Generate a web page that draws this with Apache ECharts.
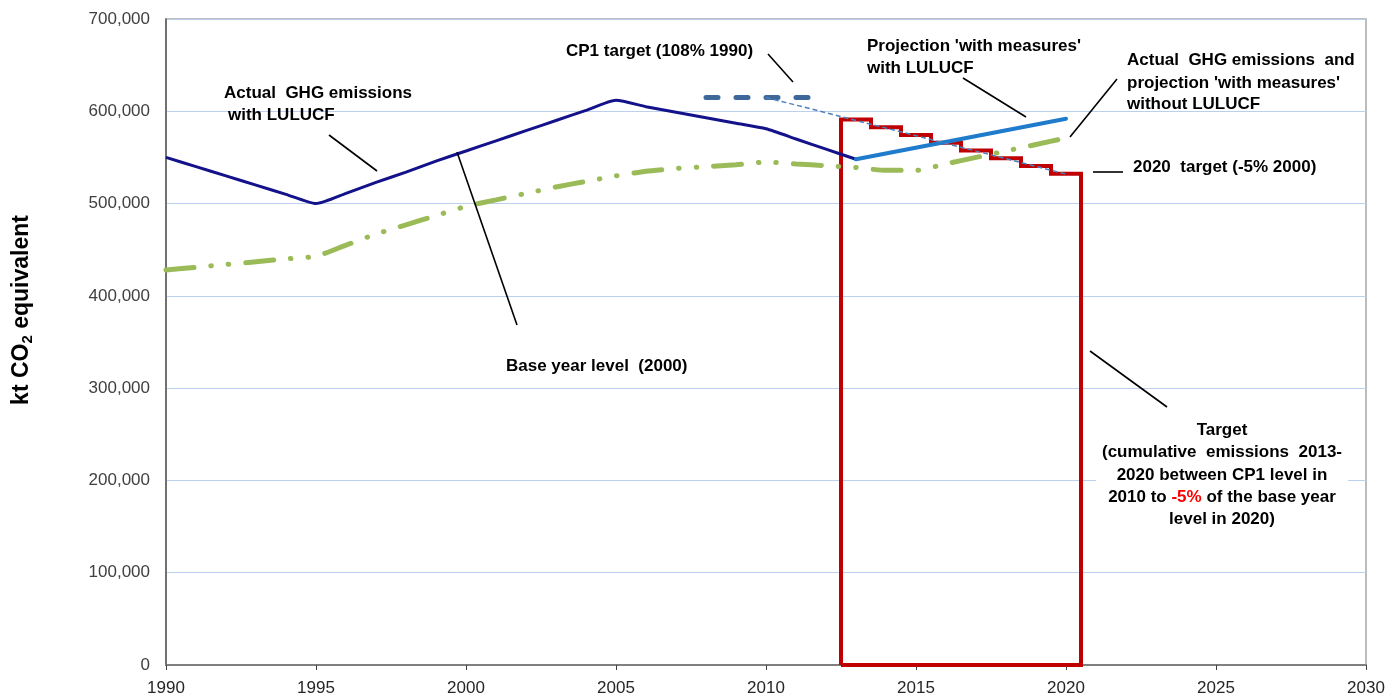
<!DOCTYPE html>
<html>
<head>
<meta charset="utf-8">
<script src="https://cdn.jsdelivr.net/npm/echarts@6/dist/echarts.min.js"></script>
<style>
  html, body { margin: 0; padding: 0; background: #fff; }
  #main { width: 1390px; height: 700px; }
</style>
</head>
<body>
<div id="main"></div>
<script>
// actual GHG emissions with LULUCF (kt CO2 eq)
const actualYears = [1990, 1991, 1992, 1993, 1994, 1995, 1996, 1997, 1998, 1999, 2000, 2001,
  2002, 2003, 2004, 2005, 2006, 2007, 2008, 2009, 2010, 2011, 2012, 2013];
const actualLulucf = [550000, 540000, 530000, 520000, 510000, 500000, 511000, 523000, 534000, 546000,
  557000, 568000, 579000, 590000, 601000, 612000, 605000, 599000, 593000, 587000, 581000, 570000, 559000, 548000];

// projection 'with measures' with LULUCF
const projYears = [2013, 2020];
const projLulucf = [548000, 592000];

// actual + projection without LULUCF
const noLulucfYears = [1990, 1991, 1992, 1993, 1994, 1995, 1996, 1997, 1998, 1999, 2000, 2001, 2002,
  2003, 2004, 2005, 2006, 2007, 2008, 2009, 2010, 2011, 2012, 2013, 2014, 2015, 2016, 2017, 2018, 2019, 2020];
const noLulucf = [428000, 431000, 434000, 437000, 440000, 443000, 455000, 467000, 477000, 487000,
  497000, 504000, 511000, 518000, 524000, 530000, 535000, 538000, 540000, 542000, 545000, 543000,
  541000, 539000, 536000, 536000, 543000, 550000, 557000, 564000, 571000];

// CP1 target (108% 1990)
const cp1Years = [2008, 2012];
const cp1Target = [615000, 615000];

// linear path from CP1 level to 2020 target
const pathYears = [2010, 2020];
const pathValues = [615000, 532000];

// annual target levels 2013-2020
const targetYears = [2013, 2014, 2015, 2016, 2017, 2018, 2019, 2020];
const targetValues = [591000, 582600, 574200, 565800, 557400, 549000, 540600, 532200];

const xTicks = { min: 1990, max: 2030, step: 5 };
const yTicks = { min: 0, max: 700000, step: 100000 };

const pairs = (xs, ys) => xs.map((x, i) => [x, ys[i]]);

// step outline of the target budget box
let targetBox = [[targetYears[0] - 0.5, 0]];
targetYears.forEach((y, i) => {
  targetBox.push([y - 0.5, targetValues[i]]);
  targetBox.push([y + 0.5, targetValues[i]]);
});
targetBox.push([targetYears[targetYears.length - 1] + 0.5, 0]);
targetBox.push([targetYears[0] - 0.5, 0]);

const FONT = '"Liberation Sans", Arial, sans-serif';
const BOLD = 'bold 17px ' + FONT;

function txt(text, x, y, extra) {
  return {
    type: 'text', z: 100,
    style: Object.assign({
      text: text, x: x, y: y, font: BOLD, fill: '#000',
      textAlign: 'left', textVerticalAlign: 'middle', align: 'left', verticalAlign: 'middle'
    }, extra || {})
  };
}
function lead(x1, y1, x2, y2) {
  return {
    type: 'line', z: 99,
    shape: { x1: x1, y1: y1, x2: x2, y2: y2 },
    style: { stroke: '#000', lineWidth: 1.6 }
  };
}

let myChart = echarts.init(document.getElementById('main'));

let option = {
  animation: false,
  backgroundColor: '#fff',
  grid: {
    left: 166, right: 24, top: 19, bottom: 35,
    show: true, borderColor: '#a6a6a6', borderWidth: 1.5
  },
  xAxis: {
    type: 'value',
    min: xTicks.min, max: xTicks.max, interval: xTicks.step,
    axisLine: { show: true, lineStyle: { color: '#7f7f7f', width: 2 } },
    axisTick: { show: true, length: 5, lineStyle: { color: '#404040', width: 1 } },
    axisLabel: { color: '#262626', fontSize: 17, fontFamily: FONT, margin: 15, formatter: v => String(v) },
    splitLine: { show: false }
  },
  yAxis: {
    type: 'value',
    min: yTicks.min, max: yTicks.max, interval: yTicks.step,
    axisLine: { show: true, lineStyle: { color: '#595959', width: 1.5 } },
    axisTick: { show: false },
    axisLabel: {
      color: '#404040', fontSize: 17, fontFamily: FONT, margin: 16,
      formatter: v => v.toLocaleString('en-US')
    },
    splitLine: { show: true, lineStyle: { color: '#bcd0ee', width: 1 } }
  },
  series: [
    {
      name: 'Target', type: 'line', data: targetBox, symbol: 'none', clip: false, z: 2,
      lineStyle: { color: '#c00000', width: 4, join: 'miter' }
    },
    {
      name: 'Without LULUCF', type: 'line', data: pairs(noLulucfYears, noLulucf), symbol: 'none', smooth: 0.2, z: 3,
      lineStyle: { color: '#9bbb59', width: 5, type: [28, 17, 0.5, 17, 0.5, 17], cap: 'round' }
    },
    {
      name: 'Actual with LULUCF', type: 'line', data: pairs(actualYears, actualLulucf), symbol: 'none', smooth: 0.2, z: 4,
      lineStyle: { color: '#13128a', width: 3 }
    },
    {
      name: 'Projection with LULUCF', type: 'line', data: pairs(projYears, projLulucf), symbol: 'none', z: 5,
      lineStyle: { color: '#1f7bcb', width: 4, cap: 'round' }
    },
    {
      name: 'CP1 target', type: 'line', data: pairs(cp1Years, cp1Target), symbol: 'none', z: 5,
      lineStyle: { color: '#3d6899', width: 5, type: [12, 18], cap: 'round' }
    },
    {
      name: 'Path', type: 'line', data: pairs(pathYears, pathValues), symbol: 'none', z: 6,
      lineStyle: { color: '#4f81bd', width: 1.5, type: [5, 3] }
    }
  ],
  graphic: [
    {
      type: 'text', z: 100, x: 22, y: 310, rotation: Math.PI / 2,
      style: {
        text: '{a|kt CO}{s|2}{a| equivalent}',
        x: 0, y: 0, font: 'bold 23px ' + FONT, fill: '#000',
        textAlign: 'center', textVerticalAlign: 'middle', align: 'center', verticalAlign: 'middle',
        rich: {
          a: { font: 'bold 23px ' + FONT, fill: '#000' },
          s: { font: 'bold 15px ' + FONT, fill: '#000', verticalAlign: 'bottom', padding: [11, 0, 0, 0] }
        }
      }
    },

    txt('Actual  GHG emissions', 224, 93),
    txt('with LULUCF', 228, 115),
    lead(329, 135, 377, 171),

    txt('CP1 target (108% 1990)', 566, 51),
    lead(768, 54, 793, 82),

    txt("Projection 'with measures'", 867, 46),
    txt('with LULUCF', 867, 68),
    lead(963, 78, 1026, 117),

    txt('Actual  GHG emissions  and', 1127, 60),
    txt("projection 'with measures'", 1127, 83),
    txt('without LULUCF', 1127, 104),
    lead(1117, 79, 1070, 137),

    txt('2020  target (-5% 2000)', 1133, 167),
    lead(1093, 172, 1123, 172),

    txt('Base year level  (2000)', 506, 366),
    lead(457, 152, 517, 325),

    lead(1090, 351, 1167, 407),
    {
      type: 'text', z: 100,
      style: {
        text: 'Target\n(cumulative  emissions  2013-\n2020 between CP1 level in\n2010 to {r|-5%} of the base year\nlevel in 2020)',
        x: 1222, y: 475, font: BOLD, fill: '#000', lineHeight: 22.3,
        textAlign: 'center', textVerticalAlign: 'middle', align: 'center', verticalAlign: 'middle',
        backgroundColor: '#fff', padding: [4, 6],
        rich: { r: { fill: '#ff0000', font: BOLD, lineHeight: 22.3 } }
      }
    }
  ]
};
myChart.setOption(option);
</script>
</body>
</html>
